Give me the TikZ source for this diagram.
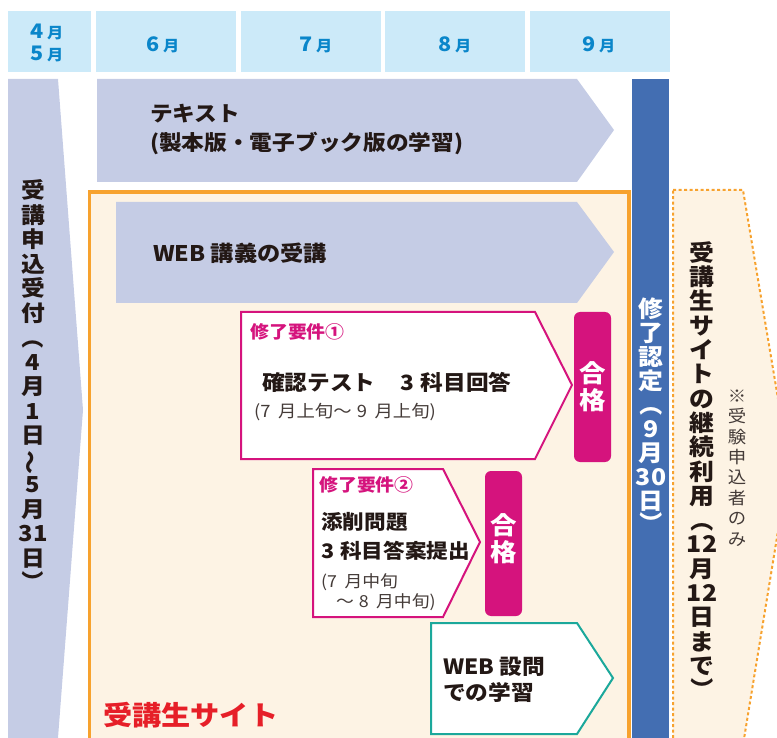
\documentclass[tikz,border=0pt]{standalone}
\usepackage{fontspec}
\usepackage{graphicx}
\setmainfont{Noto Sans CJK JP}[FakeStretch=1.08]
\definecolor{hdrfill}{HTML}{CCEAF9}
\definecolor{hdrtext}{HTML}{0A86CA}
\definecolor{lav}{HTML}{C5CCE5}
\definecolor{orng}{HTML}{F7A22E}
\definecolor{cream}{HTML}{FDF3E4}
\definecolor{mag}{HTML}{D5137D}
\definecolor{teal}{HTML}{1BA89B}
\definecolor{bluecol}{HTML}{436EB2}
\definecolor{redtxt}{HTML}{E61F28}
\definecolor{dark}{HTML}{231815}
\newcommand\myvlp{\rotatebox[origin=c]{-90}{（}}
\newcommand\myvrp{\rotatebox[origin=c]{-90}{）}}
\newcommand\myvwave{\rotatebox[origin=c]{90}{～}}
\newcommand\mon[1]{{\fontsize{20}{22}\selectfont #1}\,{\fontsize{15}{22}\selectfont 月}}
\tikzset{
  hdrcell/.style={fill=hdrfill},
  hdrlabel/.style={text=hdrtext, font=\bfseries\fontsize{20}{22}\selectfont, align=center, inner sep=0pt},
  lavshape/.style={fill=lav},
  reqbox/.style={draw=mag, line width=2pt, fill=white, line join=miter},
  passbox/.style={fill=mag, rounded corners=6pt},
  passlabel/.style={text=white, font=\bfseries\fontsize{24.5}{27}\selectfont, align=center, inner sep=0pt},
  bodytext/.style={text=dark, anchor=west, inner sep=0pt, align=left},
  vtext/.style={align=center, inner sep=0pt},
}
\begin{document}
\begin{tikzpicture}[x=1pt,y=-1pt]
\useasboundingbox (0,0) rectangle (777,738);
% header
\fill[hdrcell] (8,11) rectangle (91,72);
\fill[hdrcell] (96,11) rectangle (236,72);
\fill[hdrcell] (241,11) rectangle (381,72);
\fill[hdrcell] (385,11) rectangle (525,72);
\fill[hdrcell] (530,11) rectangle (670,72);
\node[hdrlabel] (m45) at (47,43) {\mon{4}\\\mon{5}};
\node[hdrlabel] (m6) at (163,45) {\mon{6}};
\node[hdrlabel] (m7) at (316,45) {\mon{7}};
\node[hdrlabel] (m8) at (455,45) {\mon{8}};
\node[hdrlabel] (m9) at (599,45) {\mon{9}};
% left column
\fill[lavshape] (8,79) -- (58,79) -- (83,410) -- (58,738) -- (8,738) -- cycle;
\node[vtext, text=dark, font=\bfseries\fontsize{22}{24.5}\selectfont] (apply) at (33,387)
  {受\\講\\申\\込\\受\\付\\\myvlp\\4\\月\\1\\日\\\myvwave\\5\\月\\31\\日\\\myvrp};
% text arrow
\fill[lavshape] (97,79) -- (577,79) -- (614,130) -- (577,182) -- (97,182) -- cycle;
\node[bodytext, font=\bfseries\fontsize{21}{29}\selectfont] (texts) at (150,129)
  {テキスト\\(製本版・電子ブック版の学習)};
% orange site box
\draw[draw=orng, fill=cream, line width=3.5pt] (89.5,192) rectangle (629,760);
% WEB lecture arrow
\fill[lavshape] (116,202) -- (577,202) -- (614,252) -- (577,303) -- (116,303) -- cycle;
\node[bodytext, font=\bfseries\fontsize{21.5}{24}\selectfont] (weblec) at (153,253) {WEB 講義の受講};
% requirement 1
\draw[reqbox] (241,312) -- (535,312) -- (572,385) -- (535,459) -- (241,459) -- cycle;
\node[bodytext, text=mag, font=\bfseries\fontsize{17.5}{20}\selectfont] (req1) at (250,332) {修了要件①};
\node[bodytext, font=\bfseries\fontsize{21}{24}\selectfont] (test) at (262,382) {確認テスト\hspace{1.2em}3\hspace{0.3em}科目回答};
\node[bodytext, text=dark!85, font=\fontsize{17}{20}\selectfont] (testdate) at (254,412) {(7\hspace{0.45em}月上旬～\hspace{0.3em}9\hspace{0.45em}月上旬)};
\fill[passbox] (574,312) rectangle (611,462);
\node[passlabel] (pass1) at (592.5,387) {合\\格};
% requirement 2
\draw[reqbox] (313,469) -- (443,469) -- (480,542) -- (443,617) -- (313,617) -- cycle;
\node[bodytext, text=mag, font=\bfseries\fontsize{17.5}{20}\selectfont] (req2) at (319,485) {修了要件②};
\node[bodytext, font=\bfseries\fontsize{20}{29}\selectfont] (essay) at (321,536) {添削問題\\3\hspace{0.3em}科目答案提出};
\node[bodytext, text=dark!85, font=\fontsize{16.5}{20}\selectfont] (essaydate) at (321,592) {(7\hspace{0.45em}月中旬\\\hspace{0.9em}～\hspace{0.3em}8\hspace{0.45em}月中旬)};
\fill[passbox] (485,471) rectangle (522,616);
\node[passlabel] (pass2) at (503.5,539) {合\\格};
% WEB questions
\draw[draw=teal, line width=2pt, fill=white] (431,623) -- (577,623) -- (613,678) -- (577,734) -- (431,734) -- cycle;
\node[bodytext, font=\bfseries\fontsize{21}{26}\selectfont] (webq) at (443,680) {WEB 設問\\での学習};
% site label
\node[bodytext, text=redtxt, font=\bfseries\fontsize{27}{30}\selectfont] (site) at (103,715) {受講生サイト};
% blue column
\fill[bluecol] (632,79) rectangle (669,738);
\node[vtext, text=white, font=\bfseries\fontsize{23}{24}\selectfont] (cert) at (651,417)
  {修\\了\\認\\定\\\myvlp\\9\\月\\30\\日\\\myvrp};
% dotted continuation chevron
\draw[draw=orng, fill=cream, line width=2pt, dash pattern=on 3pt off 2.5pt] (673,190) -- (743,190) -- (789,464) -- (743,745) -- (673,745) -- cycle;
\node[vtext, text=dark, font=\bfseries\fontsize{23}{24.3}\selectfont] (cont) at (702,472)
  {受\\講\\生\\サ\\イ\\ト\\の\\継\\続\\利\\用\\\myvlp\\12\\月\\12\\日\\ま\\で\\\myvrp};
\node[vtext, text=dark!85, font=\fontsize{17}{20.4}\selectfont] (only) at (737,468)
  {※\\受\\験\\申\\込\\者\\の\\み};
\end{tikzpicture}
\end{document}
